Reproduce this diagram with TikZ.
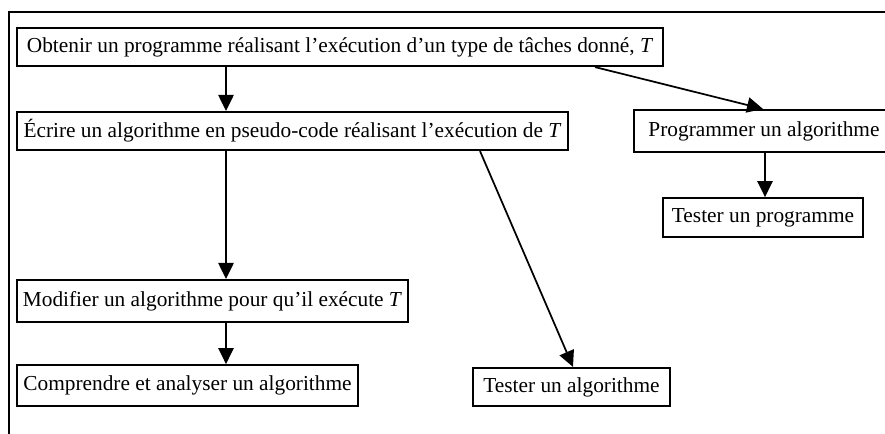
\documentclass[tikz,border=0pt]{standalone}
\usepackage{fontspec}
\setmainfont{Liberation Serif}
\usetikzlibrary{arrows.meta}

\begin{document}
\begin{tikzpicture}[x=0.75pt, y=-0.75pt,
		boite/.style={draw, line width=1.6pt, inner sep=0pt},
		fleche/.style={line width=1.3pt, -{Triangle[length=12pt, width=11.5pt]}},
		font=\fontsize{16}{18}\selectfont]
		
		\useasboundingbox (0,0) rectangle (885,434);
		\clip (0,0) rectangle (885,434);
		
		% Cadre
		\draw[line width=1.7pt] (9,440) -- (9,12) -- (890,12);
		
		% --- Tâche principale ---
		\node[boite, minimum width=484.5pt, minimum height=28.5pt] (obtenir) at (340,47)
		{Obtenir un programme réalisant l’exécution d’un type de tâches donné, \textit{T}};
		
		% --- Branche algorithme ---
		\node[boite, minimum width=413pt, minimum height=28.5pt] (ecrire) at (292.5,131)
		{Écrire un algorithme en pseudo-code réalisant l’exécution de \textit{T}};
		\node[boite, minimum width=293pt, minimum height=31.5pt] (modifier) at (212.5,301)
		{Modifier un algorithme pour qu’il exécute \textit{T}};
		\node[boite, minimum width=256pt, minimum height=30.5pt] (comprendre) at (187.5,385.5)
		{Comprendre et analyser un algorithme};
		\node[boite, minimum width=148pt, minimum height=28.5pt] (testalgo) at (571.5,387)
		{Tester un algorithme};
		
		% --- Branche programme ---
		\node[boite, minimum width=195pt, minimum height=31.5pt] (programmer) at (764,131)
		{Programmer un algorithme};
		\node[boite, minimum width=150pt, minimum height=29pt] (testprog) at (763,217.5)
		{Tester un programme};
		
		% Points d'attache des flèches
		\coordinate (colA) at (226,0);
		\coordinate (colB) at (765,0);
		\coordinate (versprog1) at (595,0);
		\coordinate (versprog2) at (763,0);
		\coordinate (verstest1) at (480,0);
		\coordinate (verstest2) at (573,0);
		
		% Flèches
		\draw[fleche] (obtenir.south -| colA) -- (ecrire.north -| colA);
		\draw[fleche] (obtenir.south -| versprog1) -- (programmer.north -| versprog2);
		\draw[fleche] (ecrire.south -| colA) -- (modifier.north -| colA);
		\draw[fleche] (modifier.south -| colA) -- (comprendre.north -| colA);
		\draw[fleche] (ecrire.south -| verstest1) -- (testalgo.north -| verstest2);
		\draw[fleche] (programmer.south -| colB) -- (testprog.north -| colB);
		
	\end{tikzpicture}
\end{document}
